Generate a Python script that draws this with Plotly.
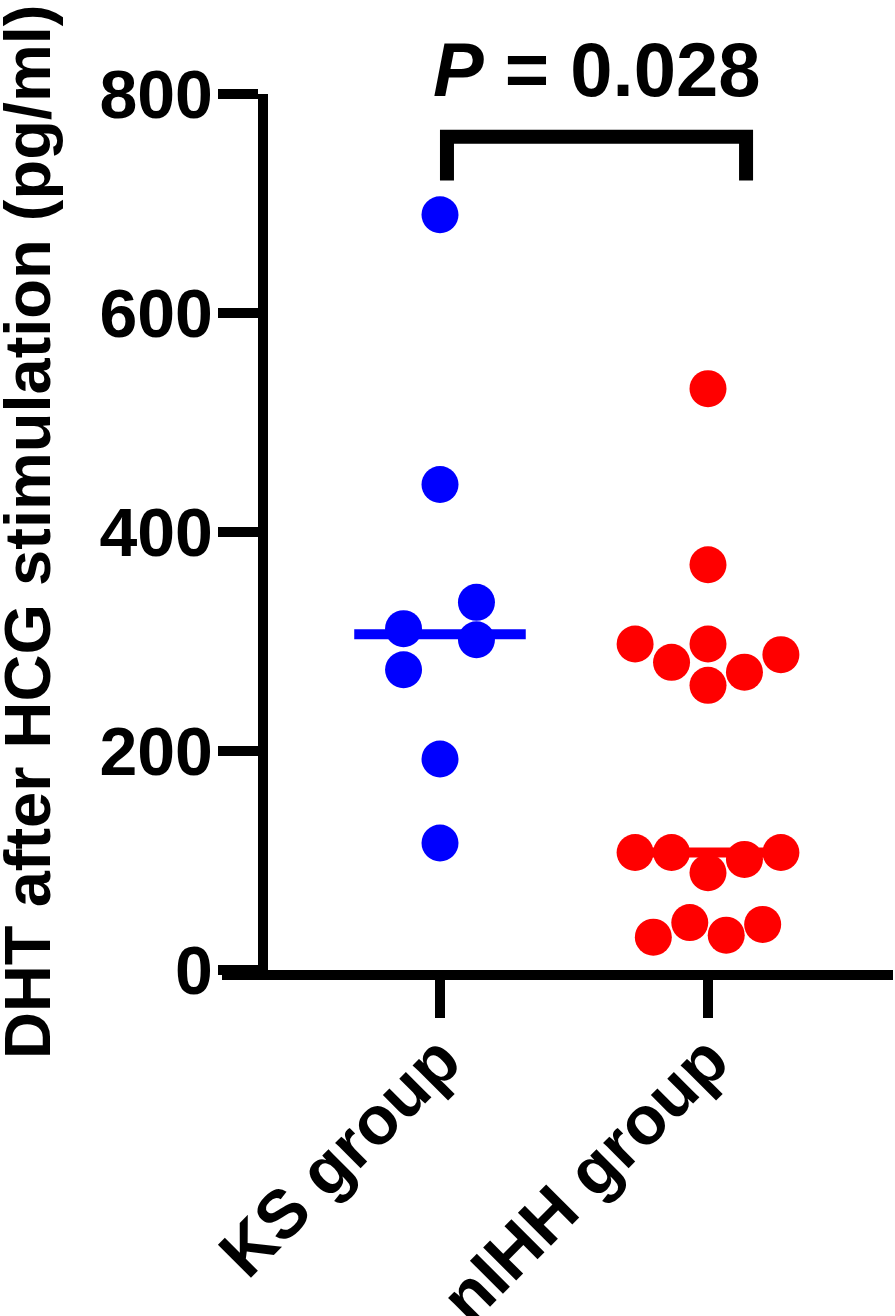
import plotly.graph_objects as go
import numpy as np

# ---------------- data ----------------
groups = ["KS group", "nIHH group"]
group_pos = [1, 2]
ks_values = [689.7, 443.4, 335.8, 311.7, 301.6, 274.2, 192.7, 116.0]
ks_swarm_col = [0, 0, 1, -1, 1, -1, 0, 0]
nihh_values = [530.9, 370.1, 297.7, 297.7, 281.0, 288.0, 272.0, 260.0,
               107.3, 107.3, 107.3, 101.0, 88.8, 43.3, 41.6, 30.0, 31.8]
nihh_swarm_col = [0, 0, -2, 0, -1, 2, 1, 0,
                  -2, -1, 2, 1, 0, -0.5, 1.5, -1.5, 0.5]
colors = ["#0000FF", "#FF0000"]
y_ticks = [0, 200, 400, 600, 800]
p_text = "<b><i>P</i> = 0.028</b>"

# ---------------- style constants ----------------
FONT = "Arial, Liberation Sans, sans-serif"
swarm_step = 0.136
median_half = 0.32
bracket_x = [1.026, 2.142]
bracket_top = 761
bracket_leg = 721

fig = go.Figure()

series = [(ks_values, ks_swarm_col), (nihh_values, nihh_swarm_col)]
for gpos, (vals, cols), col in zip(group_pos, series, colors):
    med = float(np.median(vals))
    fig.add_trace(go.Scatter(
        x=[gpos - median_half, gpos + median_half], y=[med, med],
        mode="lines", line=dict(color=col, width=10), showlegend=False,
        hoverinfo="skip"))
    fig.add_trace(go.Scatter(
        x=[gpos + c * swarm_step for c in cols], y=vals,
        mode="markers", marker=dict(color=col, size=37, line=dict(width=0)),
        showlegend=False, cliponaxis=False))

# significance bracket
fig.add_shape(type="path", xref="x", yref="y",
              path=f"M {bracket_x[0]},{bracket_leg} L {bracket_x[0]},{bracket_top} "
                   f"L {bracket_x[1]},{bracket_top} L {bracket_x[1]},{bracket_leg}",
              line=dict(color="black", width=14))
fig.add_annotation(x=sum(bracket_x) / 2, xref="x", y=1.028, yref="paper",
                   text=p_text, showarrow=False, xanchor="center", yanchor="middle",
                   font=dict(family=FONT, size=76, color="black"))

# y-axis title
fig.add_annotation(x=-0.2906, xref="paper", y=0.5, yref="paper",
                   text="<b>DHT after HCG stimulation (pg/ml)</b>",
                   textangle=-90, showarrow=False, xanchor="center", yanchor="middle",
                   font=dict(family=FONT, size=65, color="black"))

fig.update_layout(
    template="none",
    width=895, height=1316,
    margin=dict(l=222, r=2, t=94, b=346, autoexpand=False),
    paper_bgcolor="white", plot_bgcolor="white",
    font=dict(family=FONT, color="black"),
    showlegend=False,
    xaxis=dict(
        range=[0.18657, 2.6903], tickmode="array", tickvals=group_pos,
        ticktext=groups, tickangle=-45, showgrid=False, zeroline=False,
        automargin=False,
        showline=True, linecolor="black", linewidth=10,
        ticks="outside", ticklen=38, tickwidth=10, tickcolor="black",
        ticklabelstandoff=-25,
        tickfont=dict(family=FONT, size=68, color="black", weight="bold"),
    ),
    yaxis=dict(
        range=[0, 800], tickvals=y_ticks, showgrid=False, zeroline=False,
        automargin=False,
        anchor="free", position=0.0604,
        showline=True, linecolor="black", linewidth=10,
        ticks="outside", ticklen=40, tickwidth=10, tickcolor="black",
        ticklabelstandoff=-9,
        tickfont=dict(family=FONT, size=68, color="black", weight="bold"),
    ),
)

fig.write_html("out.html", post_script="document.body.style.margin='0';",
               config={"displayModeBar": False})
